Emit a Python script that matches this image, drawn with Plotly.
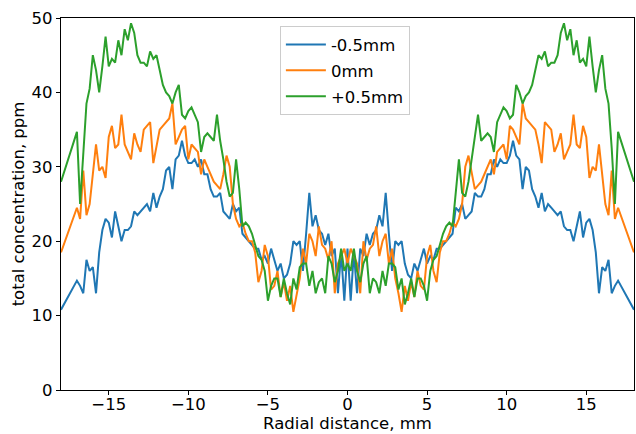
import numpy as np
import plotly.graph_objects as go

# Radial positions for the right half (mm); data is mirror-symmetric about 0
r_half = [round(v, 1) for v in np.arange(0, 17.01, 0.2)] + [18.0]

minus05 = [19, 12, 18.5, 13, 19,
           18, 21, 19.5, 21, 21.5,
           23.5, 22, 26.5, 21, 16,
           20, 19.5, 20, 17, 15.5,
           15, 17, 16, 17.5, 19,
           17, 18, 17.5, 19, 19,
           19.5, 20, 20.5, 21, 24.5,
           24, 25, 23, 23.5, 24,
           26.5, 26, 26, 27, 29,
           29, 31, 30, 31, 30.5,
           30.5, 31.5, 33.5, 31.5, 31,
           27, 30, 29.5, 27, 26,
           24.5, 26.5, 24, 25, 24.5,
           24, 23.5, 24, 22, 21.5,
           21.5, 20, 22, 24, 20.5,
           22.5, 23, 21.5, 18.5, 13,
           16.5, 16, 17.5, 13, 14,
           14.7, 10.8]

zero = [17, 19, 18, 17, 13,
        20, 17.5, 19, 19.5, 22,
        18, 20, 21, 17, 19,
        15, 13, 10.5, 14, 12,
        14.5, 12.5, 16, 14, 13.5,
        18, 19.5, 16, 14.5, 18.5,
        20, 20, 21, 22.5, 22,
        23, 25, 30, 31.5, 29,
        27, 27.5, 28, 29, 30,
        31, 29, 32, 32.5, 33,
        31, 35.5, 35, 34, 33,
        38.5, 36.5, 36, 35.5, 35,
        33, 30.5, 36, 35.5, 35,
        32, 33, 34.5, 31, 32,
        33, 37, 33, 32.5, 35.5,
        34, 28.5, 30, 29.5, 33,
        29, 25, 23.5, 29.5, 23,
        24.5, 18.5]

plus05 = [17, 16, 19, 16, 14.5,
          17, 18, 13, 15, 14.5,
          13, 16, 14, 17, 17,
          16.5, 13.5, 15, 11.5, 13,
          15, 12.5, 15, 15, 14,
          12, 16, 17.5, 18, 19.5,
          21, 22, 22.5, 22, 27,
          31, 26.5, 26, 28, 31,
          33.5, 37, 33.5, 34, 34.5,
          34, 32, 36, 37, 38,
          37.5, 36.5, 37, 41, 40,
          38.5, 39.5, 40, 41, 43,
          45, 44.5, 45.5, 43.5, 44,
          44, 45, 48, 49.3, 47,
          48.5, 45, 47, 44, 44.5,
          43.5, 47.5, 43.5, 40, 43,
          45, 40.5, 38.5, 32.5, 25,
          34.7, 28]

series_names = ["-0.5mm", "0mm", "+0.5mm"]
series_colors = ["#1f77b4", "#ff7f0e", "#2ca02c"]
x_ticks = [-15, -10, -5, 0, 5, 10, 15]
y_ticks = [0, 10, 20, 30, 40, 50]


def mirror(vals):
    return list(reversed(vals[1:])) + list(vals)


x_full = [-v for v in reversed(r_half[1:])] + r_half

fig = go.Figure()
for name, vals, col in zip(series_names, [minus05, zero, plus05], series_colors):
    fig.add_trace(go.Scatter(x=x_full, y=mirror(vals), mode="lines", name=name,
                             legendgroup=name,
                             line=dict(color=col, width=2)))

font = dict(family="DejaVu Sans", size=16.5, color="black")
axis_common = dict(showline=True, linecolor="black", linewidth=1.2, mirror=True,
                   ticks="outside", ticklen=4, tickwidth=1, tickcolor="black",
                   showgrid=False, zeroline=False, tickfont=font)

fig.update_layout(
    width=636, height=434,
    margin=dict(l=61, r=2, t=18, b=44),
    plot_bgcolor="white", paper_bgcolor="white",
    font=font,
    xaxis=dict(range=[-18, 18], tickvals=x_ticks,
               title=dict(text="Radial distance, mm", font=font, standoff=3),
               automargin=False, ticklabelstandoff=-5,
               **axis_common),
    yaxis=dict(range=[0, 50], tickvals=y_ticks,
               title=dict(text="total concentration, ppm", font=font, standoff=2),
               automargin=False,
               **axis_common),
    legend=dict(x=0.382, y=0.978, xanchor="left", yanchor="top",
                bgcolor="rgba(255,255,255,0.8)", bordercolor="#cccccc", borderwidth=1,
                font=font, itemwidth=40, traceorder="grouped", tracegroupgap=1.5),
    showlegend=True,
)

fig.write_html("out.html")
